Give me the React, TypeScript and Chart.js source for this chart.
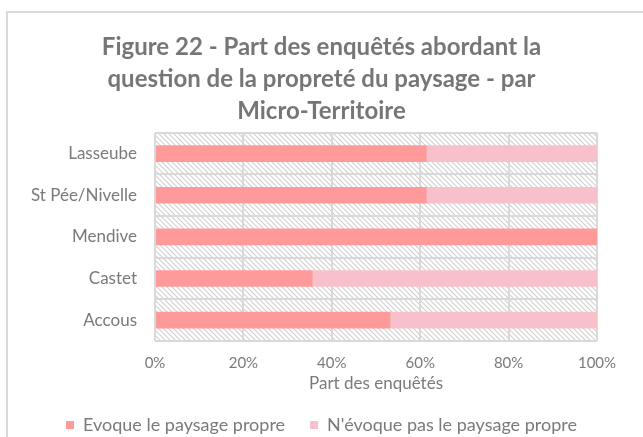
import { useEffect, useRef } from "react";
import { Chart, registerables } from "chart.js";
Chart.register(...registerables);

const categories = ["Lasseube", "St Pée/Nivelle", "Mendive", "Castet", "Accous"];
const evoque = [61.5, 61.5, 100, 35.7, 53.3];
const nEvoque = [38.5, 38.5, 0, 64.3, 46.7];
const seriesNames = ["Evoque le paysage propre", "N'évoque pas le paysage propre"];
const titleLines = [
  "Figure 22 - Part des enquêtés abordant la",
  "question de la propreté du paysage - par",
  "Micro-Territoire",
];
const xAxisTitle = "Part des enquêtés";

const FONT = "Lato, 'Open Sans', sans-serif";

function makeTile() {
  const t = document.createElement("canvas");
  t.width = 5;
  t.height = 5;
  const c = t.getContext("2d")!;
  c.strokeStyle = "#d2d2d2";
  c.lineWidth = 1.2;
  c.beginPath();
  c.moveTo(-1, -1);
  c.lineTo(6, 6);
  c.moveTo(-1, 4);
  c.lineTo(1, 6);
  c.moveTo(4, -1);
  c.lineTo(6, 1);
  c.stroke();
  return t;
}

const hatchPlugin = {
  id: "hatch",
  beforeDraw(chart: any) {
    const { ctx, chartArea: a } = chart;
    const pat = ctx.createPattern(makeTile(), "repeat");
    ctx.save();
    ctx.fillStyle = "#ffffff";
    ctx.fillRect(a.left, a.top, a.right - a.left, a.bottom - a.top);
    ctx.fillStyle = pat;
    ctx.fillRect(a.left, a.top, a.right - a.left, a.bottom - a.top);
    ctx.restore();
  },
};

export default function App() {
  const ref = useRef<HTMLCanvasElement>(null);
  useEffect(() => {
    const chart = new Chart(ref.current!, {
      type: "bar",
      data: {
        labels: categories,
        datasets: [
          {
            label: seriesNames[0],
            data: evoque,
            backgroundColor: "#ff9a9a",
            barPercentage: 0.4,
            categoryPercentage: 1,
          },
          {
            label: seriesNames[1],
            data: nEvoque,
            backgroundColor: "#f8c0ca",
            barPercentage: 0.4,
            categoryPercentage: 1,
          },
        ],
      },
      plugins: [hatchPlugin],
      options: {
        indexAxis: "y",
        animation: false,
        responsive: false,
        maintainAspectRatio: false,
        layout: { padding: { left: 0, right: 0, top: 0, bottom: -7 } },
        scales: {
          x: {
            stacked: true,
            min: 0,
            max: 100,
            afterFit: (s: any) => {
              s.height = 50;
            },
            ticks: {
              stepSize: 20,
              callback: (v: any) => v + "%",
              color: "#7a7a7a",
              font: { family: FONT, size: 15 },
              padding: 13,
            },
            grid: { color: "#d9d9d9", lineWidth: 2, drawTicks: false },
            border: { display: false },
            title: {
              display: true,
              text: xAxisTitle,
              color: "#7a7a7a",
              font: { family: FONT, size: 17 },
              padding: { top: 0, bottom: -3 },
            },
          },
          y: {
            stacked: true,
            afterFit: (s: any) => {
              s.width = 155;
            },
            ticks: {
              color: "#7a7a7a",
              font: { family: FONT, size: 17 },
              padding: 18,
            },
            grid: { color: "#d9d9d9", lineWidth: 2, drawTicks: false, offset: true },
            border: { display: false },
          },
          spacer: {
            type: "linear",
            position: "right",
            display: true,
            afterFit: (s: any) => {
              s.width = 46;
            },
            ticks: { display: false },
            grid: { display: false },
            border: { display: false },
          },
        },
        plugins: {
          title: {
            display: true,
            text: titleLines,
            color: "#767676",
            font: { family: FONT, size: 24, weight: "bold", lineHeight: 1.33 },
            padding: { top: 31, bottom: 6 },
          },
          legend: {
            position: "bottom",
            labels: {
              boxWidth: 8,
              boxHeight: 8,
              color: "#7a7a7a",
              font: { family: FONT, size: 18 },
              padding: 25,
            },
          },
          tooltip: { enabled: false },
        },
      },
    } as any);
    return () => chart.destroy();
  }, []);
  return (
    <div style={{ position: "fixed", left: 0, top: 0, width: 643, height: 437, overflow: "hidden", background: "#fff" }}>
      <div
        style={{
          position: "absolute",
          left: 6,
          top: 11,
          width: 660,
          height: 460,
          border: "2px solid #d9d9d9",
          boxSizing: "border-box",
        }}
      />
      <canvas ref={ref} width={643} height={437} style={{ position: "absolute", left: 0, top: 0, width: 643, height: 437 }} />
    </div>
  );
}
